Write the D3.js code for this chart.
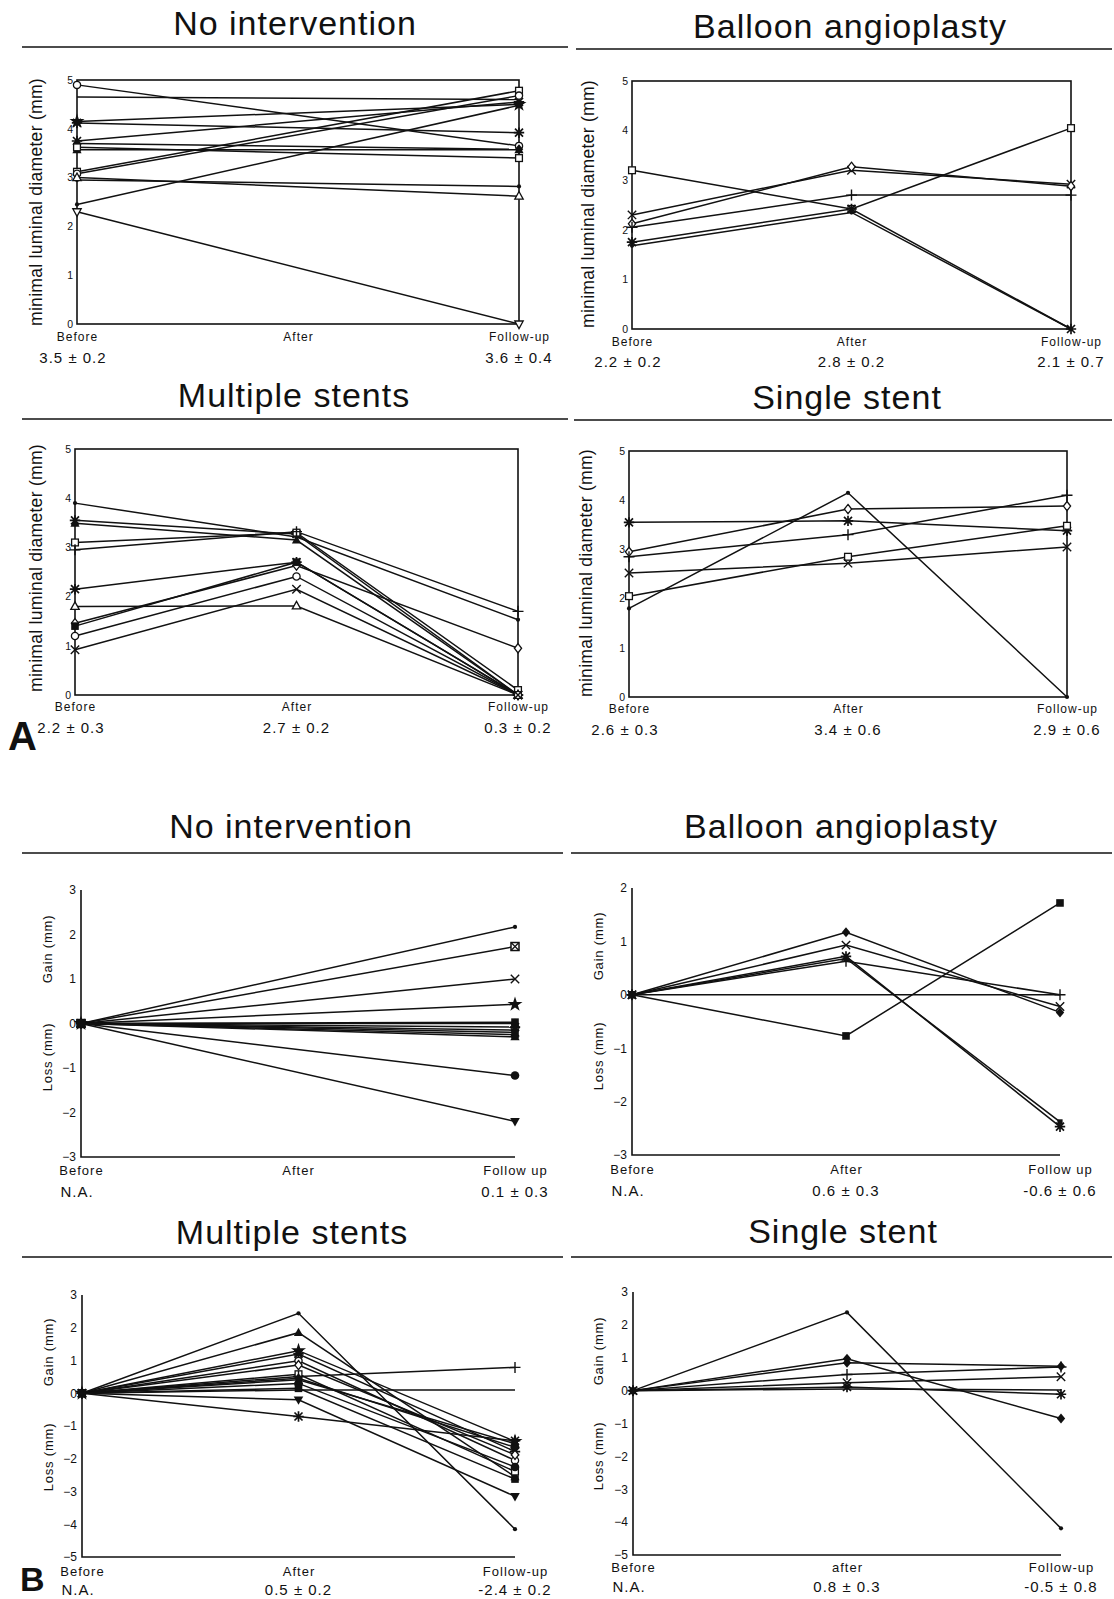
<!DOCTYPE html>
<html>
<head>
<meta charset="utf-8">
<script src="https://cdn.jsdelivr.net/npm/d3@7"></script>
<style>
  body { margin: 0; background: #fff; }
  svg text { font-family: "Liberation Sans", Arial, Helvetica, sans-serif; fill: #111; }
</style>
</head>
<body>
<div id="chart"></div>
<script>

var stages = ["Before", "After", "Follow-up"];

var stageLabelsA = ["Before", "After", "Follow-up"];
var stageLabelsB = ["Before", "After", "Follow up"];
var stageLabelsB3 = ["Before", "After", "Follow-up"];
var stageLabelsB4 = ["Before", "after", "Follow-up"];

var mldTicks = [0, 1, 2, 3, 4, 5];
var changeTicks3 = [-3, -2, -1, 0, 1, 2, 3];
var changeTicks2 = [-3, -2, -1, 0, 1, 2];
var changeTicks5 = [-5, -4, -3, -2, -1, 0, 1, 2, 3];

// A: minimal luminal diameter (mm), one row per vessel: before, after, follow-up
var noInterventionMld = [
  [4.9, null, 3.65], [4.65, null, 4.6], [4.15, null, 4.5], [4.12, null, 3.92],
  [3.75, null, 4.55], [3.7, null, 3.58], [3.57, null, 3.57], [3.62, null, 3.4],
  [3.12, null, 4.78], [3.08, null, 4.68], [2.95, null, 2.82], [3.0, null, 2.62],
  [2.45, null, 4.48], [2.3, null, 0]
];
var noInterventionMldMarks = ["circle", "none", "star", "ast", "ast", "diamondF", "triF",
  "square", "square", "circle", "dot", "tri", "dot", "triD"];
var noInterventionMldMeans = ["3.5 \u00b1 0.2", "", "3.6 \u00b1 0.4"];

var balloonMld = [
  [3.2, 2.42, 4.05], [2.3, 3.2, 2.92], [2.12, 3.27, 2.88],
  [2.05, 2.7, 2.7], [1.75, 2.42, 0], [1.68, 2.35, 0]
];
var balloonMldMarks = ["square", "x", "diamond", "plus", "ast", "dot"];
var balloonMldMeans = ["2.2 \u00b1 0.2", "2.8 \u00b1 0.2", "2.1 \u00b1 0.7"];

var multipleMld = [
  [3.9, 3.21, 1.53], [3.55, 3.27, 0], [3.49, 3.15, 0], [3.1, 3.3, 0.1],
  [2.95, 3.32, 1.7], [2.15, 2.7, 0], [1.8, 1.81, 0], [1.46, 2.63, 0.95],
  [1.4, 2.7, 0], [1.2, 2.41, 0], [0.92, 2.15, 0]
];
var multipleMldMarks = ["dot", "ast", "triF", "square", "plus", "ast", "tri", "diamond",
  "squareF", "circle", "x"];
var multipleMldMeans = ["2.2 \u00b1 0.3", "2.7 \u00b1 0.2", "0.3 \u00b1 0.2"];

var singleMld = [
  [1.8, 4.15, 0], [2.95, 3.82, 3.88], [3.55, 3.58, 3.38],
  [2.85, 3.3, 4.1], [2.05, 2.85, 3.48], [2.52, 2.72, 3.05]
];
var singleMldMarks = ["dot", "diamond", "ast", "plus", "square", "x"];
var singleMldMeans = ["2.6 \u00b1 0.3", "3.4 \u00b1 0.6", "2.9 \u00b1 0.6"];

// B: gain / loss (mm)
var noInterventionChange = [
  [0, null, 2.17], [0, null, 1.73], [0, null, 1.0], [0, null, 0.43], [0, null, 0.03],
  [0, null, 0.0], [0, null, -0.08], [0, null, -0.15], [0, null, -0.2], [0, null, -0.25],
  [0, null, -0.3], [0, null, -1.17], [0, null, -2.2]
];
var noInterventionChangeMarks = ["dot", "boxX", "x", "star", "squareF", "triF", "ast",
  "diamondF", "x", "squareF", "triF", "circleF", "triDF"];
var noInterventionChangeMeans = ["N.A.", "", "0.1 \u00b1 0.3"];

var balloonChange = [
  [0, 1.17, -0.33], [0, 0.93, -0.22], [0, 0.72, -2.47], [0, 0.68, -2.38],
  [0, 0.63, 0.0], [0, -0.77, 1.72], [0, 0, 0]
];
var balloonChangeMarks = ["diamondF", "x", "ast", "squareS", "plus", "squareF", "none"];
var balloonChangeMeans = ["N.A.", "0.6 \u00b1 0.3", "-0.6 \u00b1 0.6"];

var multipleChange = [
  [0, 2.44, -4.15], [0, 1.85, -2.55], [0, 1.3, -1.47], [0, 1.2, -1.78], [0, 0.99, -2.05],
  [0, 0.86, -1.88], [0, 0.58, -2.39], [0, 0.51, 0.79], [0, 0.46, -1.65], [0, 0.41, -1.54],
  [0, 0.3, -2.25], [0, 0.15, -2.62], [0, 0.1, 0.1], [0, -0.2, -3.15], [0, -0.71, -1.45]
];
var multipleChangeMarks = ["dot", "triF", "star", "ast", "circle", "diamond", "square",
  "plus", "diamondF", "x", "circleF", "squareF", "none", "triDF", "ast"];
var multipleChangeMeans = ["N.A.", "0.5 \u00b1 0.2", "-2.4 \u00b1 0.2"];

var singleChange = [
  [0, 2.38, -4.19], [0, 0.97, -0.85], [0, 0.85, 0.74], [0, 0.49, 0.72],
  [0, 0.24, 0.42], [0, 0.11, -0.11], [0, 0.05, 0.02]
];
var singleChangeMarks = ["dot", "diamondF", "diamondF", "plus", "x", "ast", "none"];
var singleChangeMeans = ["N.A.", "0.8 \u00b1 0.3", "-0.5 \u00b1 0.8"];

var ink = "#111";

var svg = d3.select("#chart").append("svg")
  .attr("width", 1114)
  .attr("height", 1599);

// panel layout
var panels = [
  { title: "No intervention", tx: 295, ty: 35, rule: [22, 568, 47],
    data: noInterventionMld, marks: noInterventionMldMarks, means: noInterventionMldMeans,
    labels: stageLabelsA, kind: "A", box: [77, 519, 80, 324], domain: [0, 5], ticks: mldTicks,
    yTitleX: 42, yTitleY: 202, labelDy: 17, meanDy: 39 },
  { title: "Balloon angioplasty", tx: 850, ty: 38, rule: [576, 1112, 49],
    data: balloonMld, marks: balloonMldMarks, means: balloonMldMeans,
    labels: stageLabelsA, kind: "A", box: [632, 1071, 81, 329], domain: [0, 5], ticks: mldTicks,
    yTitleX: 594, yTitleY: 204, labelDy: 17, meanDy: 38 },
  { title: "Multiple stents", tx: 294, ty: 407, rule: [22, 568, 419],
    data: multipleMld, marks: multipleMldMarks, means: multipleMldMeans,
    labels: stageLabelsA, kind: "A", box: [75, 518, 449, 695], domain: [0, 5], ticks: mldTicks,
    yTitleX: 42, yTitleY: 568, labelDy: 16, meanDy: 38 },
  { title: "Single stent", tx: 847, ty: 409, rule: [574, 1112, 420],
    data: singleMld, marks: singleMldMarks, means: singleMldMeans,
    labels: stageLabelsA, kind: "A", box: [629, 1067, 451, 697], domain: [0, 5], ticks: mldTicks,
    yTitleX: 592, yTitleY: 573, labelDy: 16, meanDy: 38 },
  { title: "No intervention", tx: 291, ty: 838, rule: [22, 563, 853],
    data: noInterventionChange, marks: noInterventionChangeMarks, means: noInterventionChangeMeans,
    labels: stageLabelsB, kind: "B", box: [81, 515, 890, 1157], domain: [-3, 3], ticks: changeTicks3,
    yTitleX: 52, gainY: 949, lossY: 1057, labelDy: 18, meanDy: 40 },
  { title: "Balloon angioplasty", tx: 841, ty: 838, rule: [571, 1112, 853],
    data: balloonChange, marks: balloonChangeMarks, means: balloonChangeMeans,
    labels: stageLabelsB, kind: "B", box: [632, 1060, 888, 1155], domain: [-3, 2], ticks: changeTicks2,
    yTitleX: 603, gainY: 946, lossY: 1056, labelDy: 19, meanDy: 41 },
  { title: "Multiple stents", tx: 292, ty: 1244, rule: [22, 563, 1257],
    data: multipleChange, marks: multipleChangeMarks, means: multipleChangeMeans,
    labels: stageLabelsB3, kind: "B", box: [82, 515, 1295, 1557], domain: [-5, 3], ticks: changeTicks5,
    yTitleX: 53, gainY: 1352, lossY: 1457, labelDy: 19, meanDy: 38 },
  { title: "Single stent", tx: 843, ty: 1243, rule: [571, 1112, 1257],
    data: singleChange, marks: singleChangeMarks, means: singleChangeMeans,
    labels: stageLabelsB4, kind: "B", box: [633, 1061, 1292, 1555], domain: [-5, 3], ticks: changeTicks5,
    yTitleX: 603, gainY: 1351, lossY: 1456, labelDy: 17, meanDy: 37 }
];

var starPath = d3.symbol().type(d3.symbolStar).size(70)();

function drawMark(sel, type) {
  var sw = 1.3;
  switch (type) {
    case "circle":
      sel.append("circle").attr("r", 3.6).attr("fill", "#fff").attr("stroke", ink).attr("stroke-width", sw); break;
    case "circleF":
      sel.append("circle").attr("r", 4.3).attr("fill", ink); break;
    case "dot":
      sel.append("circle").attr("r", 2.1).attr("fill", ink); break;
    case "square":
      sel.append("rect").attr("x", -3.4).attr("y", -3.4).attr("width", 6.8).attr("height", 6.8)
        .attr("fill", "#fff").attr("stroke", ink).attr("stroke-width", sw); break;
    case "squareF":
      sel.append("rect").attr("x", -3.8).attr("y", -3.8).attr("width", 7.6).attr("height", 7.6).attr("fill", ink); break;
    case "squareS":
      sel.append("rect").attr("x", -2.6).attr("y", -2.6).attr("width", 5.2).attr("height", 5.2).attr("fill", ink); break;
    case "boxX":
      sel.append("rect").attr("x", -4).attr("y", -4).attr("width", 8).attr("height", 8)
        .attr("fill", "#fff").attr("stroke", ink).attr("stroke-width", 1.5);
      sel.append("path").attr("d", "M-4,-4L4,4M-4,4L4,-4").attr("stroke", ink).attr("stroke-width", 1.2); break;
    case "diamond":
      sel.append("path").attr("d", "M0,-4.6L3.6,0L0,4.6L-3.6,0Z")
        .attr("fill", "#fff").attr("stroke", ink).attr("stroke-width", sw); break;
    case "diamondF":
      sel.append("path").attr("d", "M0,-5L4.2,0L0,5L-4.2,0Z").attr("fill", ink); break;
    case "tri":
      sel.append("path").attr("d", "M0,-4.6L4.2,3L-4.2,3Z")
        .attr("fill", "#fff").attr("stroke", ink).attr("stroke-width", sw); break;
    case "triF":
      sel.append("path").attr("d", "M0,-5L4.6,3.4L-4.6,3.4Z").attr("fill", ink); break;
    case "triD":
      sel.append("path").attr("d", "M0,4.6L4.2,-3L-4.2,-3Z")
        .attr("fill", "#fff").attr("stroke", ink).attr("stroke-width", sw); break;
    case "triDF":
      sel.append("path").attr("d", "M0,5L4.8,-3.4L-4.8,-3.4Z").attr("fill", ink); break;
    case "x":
      sel.append("path").attr("d", "M-4.2,-4.2L4.2,4.2M-4.2,4.2L4.2,-4.2").attr("stroke", ink).attr("stroke-width", 1.4); break;
    case "plus":
      sel.append("path").attr("d", "M-5.5,0H5.5M0,-5.5V5.5").attr("stroke", ink).attr("stroke-width", 1.4); break;
    case "ast":
      sel.append("path").attr("d", "M-4,-4L4,4M-4,4L4,-4M0,-5.2V5.2M-5.2,0H5.2")
        .attr("stroke", ink).attr("stroke-width", 1.7); break;
    case "star":
      sel.append("path").attr("d", starPath).attr("fill", ink); break;
  }
}

panels.forEach(function(p) {

  var g = svg.append("g");

  var x = d3.scalePoint().domain(stages).range([p.box[0], p.box[1]]);
  var y = d3.scaleLinear().domain(p.domain).range([p.box[3], p.box[2]]);

  var x0 = x(stages[0]), x2 = x(stages[2]);
  var yTop = y(p.domain[1]), yBot = y(p.domain[0]);

  // title and rule
  g.append("text")
    .attr("x", p.tx)
    .attr("y", p.ty)
    .attr("text-anchor", "middle")
    .style("font-size", "34px")
    .style("letter-spacing", "1px")
    .text(p.title);

  g.append("line")
    .attr("x1", p.rule[0]).attr("x2", p.rule[1])
    .attr("y1", p.rule[2]).attr("y2", p.rule[2])
    .attr("stroke", ink)
    .attr("stroke-width", 1.6);

  // frame
  if (p.kind == "A") {
    g.append("rect")
      .attr("x", x0).attr("y", yTop)
      .attr("width", x2 - x0).attr("height", yBot - yTop)
      .attr("fill", "none")
      .attr("stroke", ink)
      .attr("stroke-width", 1.6);
  } else {
    g.append("path")
      .attr("d", "M" + x0 + "," + yTop + "V" + yBot + "H" + x2)
      .attr("fill", "none")
      .attr("stroke", ink)
      .attr("stroke-width", 1.6);
  }

  // y axis tick labels
  var yAxis = d3.axisLeft(y)
    .tickValues(p.ticks)
    .tickSize(0)
    .tickPadding(p.kind == "A" ? 4 : 5)
    .tickFormat(d3.format("d"));

  g.append("g")
    .attr("transform", "translate(" + x0 + ",0)")
    .call(yAxis)
    .call(function(s) {
      s.select(".domain").remove();
      s.selectAll("text").style("font-size", p.kind == "A" ? "10.5px" : "12px");
    });

  // stage labels
  var xAxis = d3.axisBottom(x)
    .tickSize(0)
    .tickPadding(p.labelDy - 9)
    .tickFormat(function(d, i) { return p.labels[i]; });

  g.append("g")
    .attr("transform", "translate(0," + yBot + ")")
    .call(xAxis)
    .call(function(s) {
      s.select(".domain").remove();
      s.selectAll("text")
        .style("font-size", p.kind == "A" ? "12px" : "13px")
        .style("letter-spacing", "1px");
    });

  // mean +/- sem row
  g.selectAll(".mean")
    .data(p.means)
    .enter().append("text")
    .attr("class", "mean")
    .attr("x", function(d, i) { return x(stages[i]) - (i == 0 ? 4 : 0); })
    .attr("y", yBot + p.meanDy)
    .attr("text-anchor", "middle")
    .style("font-size", "15px")
    .style("letter-spacing", "1px")
    .text(function(d) { return d; });

  // y axis titles
  if (p.kind == "A") {
    g.append("text")
      .attr("transform", "translate(" + p.yTitleX + "," + p.yTitleY + ") rotate(-90)")
      .attr("text-anchor", "middle")
      .style("font-size", "17.5px")
      .style("letter-spacing", "0.3px")
      .text("minimal luminal diameter (mm)");
  } else {
    g.append("text")
      .attr("transform", "translate(" + p.yTitleX + "," + p.gainY + ") rotate(-90)")
      .attr("text-anchor", "middle")
      .style("font-size", "13px")
      .style("letter-spacing", "0.8px")
      .text("Gain (mm)");
    g.append("text")
      .attr("transform", "translate(" + p.yTitleX + "," + p.lossY + ") rotate(-90)")
      .attr("text-anchor", "middle")
      .style("font-size", "13px")
      .style("letter-spacing", "0.8px")
      .text("Loss (mm)");
  }

  // series
  var line = d3.line()
    .x(function(d) { return x(d.stage); })
    .y(function(d) { return y(d.value); });

  var series = p.data.map(function(row, k) {
    return {
      mark: p.marks[k],
      points: row.map(function(v, i) { return { stage: stages[i], value: v }; })
        .filter(function(d) { return d.value !== null; })
    };
  });

  g.append("g").selectAll("path")
    .data(series)
    .enter().append("path")
    .attr("d", function(d) { return line(d.points); })
    .attr("fill", "none")
    .attr("stroke", ink)
    .attr("stroke-width", 1.5);

  var markLayer = g.append("g");
  series.forEach(function(s) {
    if (s.mark == "none") return;
    s.points.forEach(function(pt) {
      var m = markLayer.append("g")
        .attr("transform", "translate(" + x(pt.stage) + "," + y(pt.value) + ")");
      drawMark(m, s.mark);
    });
  });

});

// panel letters
svg.append("text")
  .attr("x", 8).attr("y", 750)
  .style("font-size", "40px")
  .style("font-weight", "bold")
  .text("A");

svg.append("text")
  .attr("x", 20).attr("y", 1591)
  .style("font-size", "34px")
  .style("font-weight", "bold")
  .text("B");

</script>
</body>
</html>
